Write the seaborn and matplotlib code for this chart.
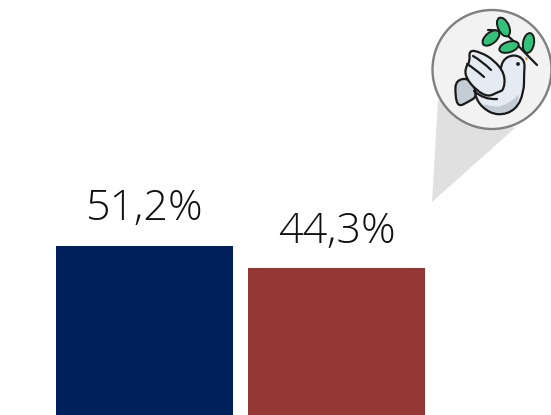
import matplotlib
matplotlib.use("Agg")
import matplotlib.pyplot as plt
from matplotlib.patches import Circle, Polygon, PathPatch, Ellipse
from matplotlib.path import Path
import pandas as pd
import seaborn as sns

categories = ["A", "B"]
values = [51.2, 44.3]
labels = ["51,2%", "44,3%"]
colors = ["#00205C", "#943634"]

sns.set_theme(style="white")
plt.rcParams["font.family"] = ["Open Sans", "DejaVu Sans"]

fig = plt.figure(figsize=(5.51, 4.15), dpi=100)
ax = fig.add_axes([0, 0, 1, 1])
df = pd.DataFrame({"c": categories, "v": values})
sns.barplot(data=df, x="c", y="v", hue="c", palette=colors, width=0.925, dodge=False,
            legend=False, ax=ax, linewidth=0, saturation=1)
ax.set_xlim(-0.755, 2.119)
ax.set_ylim(0, 125.4)
ax.axis("off")
for i, (v, l) in enumerate(zip(values, labels)):
    ax.annotate(l, (i, v), xytext=(0, 11), textcoords="offset points", ha="center", va="bottom",
                fontsize=31, fontweight="light", color="#111111")

# pictogram overlay, in pixel coordinates
ov = fig.add_axes([0, 0, 1, 1], zorder=5)
ov.set_xlim(0, 551); ov.set_ylim(415, 0); ov.axis("off"); ov.patch.set_alpha(0)
ov.add_patch(Polygon([(432, 202), (438, 100), (515, 128)], fc="#E0E0E0", ec="none"))
ov.add_patch(Circle((492, 69.5), 59.5, fc="#F2F2F2", ec="#7F7F7F", lw=1.7, clip_on=False))
K = "#1A1A1A"

def smooth(pts, fc, lw=1.6, ec=K):
    """Closed quadratic spline through the midpoints of the given control points."""
    n = len(pts)
    mid = lambda a, b: ((a[0] + b[0]) / 2, (a[1] + b[1]) / 2)
    verts = [mid(pts[-1], pts[0])]
    codes = [Path.MOVETO]
    for i in range(n):
        verts += [pts[i], mid(pts[i], pts[(i + 1) % n])]
        codes += [Path.CURVE3, Path.CURVE3]
    ov.add_patch(PathPatch(Path(verts, codes), fc=fc, ec=ec, lw=lw, joinstyle="round"))

def curve(pts, lw=1.6):
    verts = [pts[0]]; codes = [Path.MOVETO]
    for i in range(1, len(pts) - 1):
        end = pts[i + 1] if i == len(pts) - 2 else ((pts[i][0] + pts[i + 1][0]) / 2, (pts[i][1] + pts[i + 1][1]) / 2)
        verts += [pts[i], end]; codes += [Path.CURVE3, Path.CURVE3]
    ov.add_patch(PathPatch(Path(verts, codes), fc="none", ec=K, lw=lw, capstyle="round"))

body_pts = [(478, 84), (490, 86), (500, 76), (502, 60), (514, 54), (525, 60), (524, 74), (524, 92),
            (516, 110), (498, 116), (482, 108), (474, 94)]
# tail
smooth([(470, 78), (456, 80), (455, 94), (458, 107), (468, 102), (478, 96)], "#C3CBD4")
# body, belly shade, then the outline again on top
smooth(body_pts, "#E4EBF2", lw=0, ec="none")
smooth([(482, 103), (498, 108), (514, 100), (520, 92), (516, 110), (498, 116), (484, 110)], "#C3CBD4", lw=0, ec="none")
smooth(body_pts, "none")
# wing
smooth([(469, 50), (480, 52), (494, 60), (505, 74), (504, 90), (498, 92), (488, 97), (476, 90),
        (466, 78), (465, 68), (470, 62)], "#E4EBF2")
curve([(467, 64), (474, 68), (484, 77)])
curve([(473, 56), (482, 61), (491, 70)])
curve([(474, 91), (484, 100), (497, 99)])
ov.add_patch(Circle((518, 64), 1.9, fc=K, ec="none"))
ov.add_patch(Polygon([(525, 57), (528, 58), (526, 61)], fc="#C98A2B", ec="none"))
# branch
curve([(488, 30), (500, 30), (512, 39), (525, 53), (537, 65)])
for c, w, h, a in [((503.5, 27), 11, 20, -25), ((491, 38), 20, 11, -40), ((509, 47), 20, 10.5, -18), ((528.5, 43), 11, 20, 10)]:
    ov.add_patch(Ellipse(c, w, h, angle=a, fc="#33C27A", ec=K, lw=1.4))

fig.savefig("out.png", dpi=100)
